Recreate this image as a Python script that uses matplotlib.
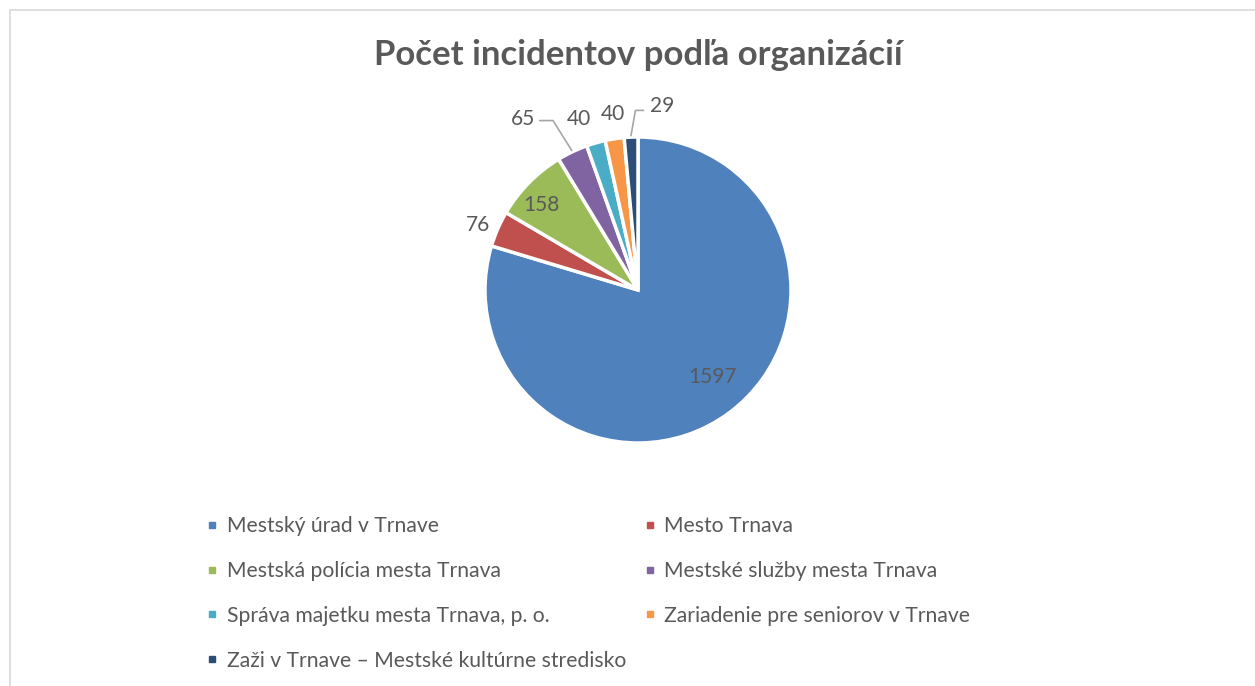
import matplotlib.pyplot as plt
from matplotlib.patches import Rectangle
from matplotlib.lines import Line2D
import numpy as np

# data
organizations = ["Mestský úrad v Trnave", "Mesto Trnava", "Mestská polícia mesta Trnava",
                 "Mestské služby mesta Trnava", "Správa majetku mesta Trnava, p. o.",
                 "Zariadenie pre seniorov v Trnave", "Zaži v Trnave – Mestské kultúrne stredisko"]
incidents = [1597, 76, 158, 65, 40, 40, 29]
colors = ["#4F81BD", "#C0504D", "#9BBB59", "#8064A2", "#4BACC6", "#F79646", "#2C4D75"]

text_color = "#595959"
plt.rcParams['font.family'] = ['Lato', 'DejaVu Sans']

W, H = 1255, 686
fig = plt.figure(figsize=(W / 100, H / 100), dpi=100)

# chart frame (gray border, clipped at right/bottom)
fig.patches.append(Rectangle((10 / W, -0.05), 1.1, (H - 10) / H + 0.05, transform=fig.transFigure,
                             fill=False, edgecolor="#d9d9d9", linewidth=1.2))

# pie axes: center (638, 290) px, radius 153 px
cx, cy, r = 638, 290, 153
ax = fig.add_axes([(cx - r) / W, (H - cy - r) / H, 2 * r / W, 2 * r / H])
wedges, _ = ax.pie(incidents, colors=colors, startangle=90, counterclock=False,
                   wedgeprops=dict(edgecolor="white", linewidth=2.5))
ax.set_xlim(-1, 1)
ax.set_ylim(-1, 1)
ax.set_aspect("equal")
ax.axis("off")

# label placement: (radius factor, angle shift in degrees, leader line)
label_layout = [(0.75, 4, None), (1.13, 1.5, None), (0.84, 3, None),
                (1.35, 8.5, "right"), (1.18, 3, None), (1.16, -0.8, None), (1.21, -10, "left")]

for w, val, (rf, shift, leader) in zip(wedges, incidents, label_layout):
    mid = np.deg2rad((w.theta1 + w.theta2) / 2)
    ang = mid + np.deg2rad(shift)
    lx, ly = rf * np.cos(ang), rf * np.sin(ang)
    if leader is None:
        ax.text(lx, ly, str(val), ha="center", va="center", fontsize=15, color=text_color)
    else:
        ex, ey = 1.01 * np.cos(mid), 1.01 * np.sin(mid)
        if leader == "right":
            relpos, angle_b = (1.2, 0.4), 122
        else:
            relpos, angle_b = (-0.25, 0.3), 80
        ax.annotate(str(val), xy=(ex, ey), xytext=(lx, ly), ha="center", va="center",
                    fontsize=15, color=text_color, annotation_clip=False,
                    arrowprops=dict(arrowstyle="-", color="#a6a6a6", lw=1.2,
                                    relpos=relpos, shrinkA=0, shrinkB=0,
                                    connectionstyle="angle,angleA=0,angleB=%d" % angle_b))

fig.text(cx / W, 1 - 55 / H, "Počet incidentov podľa organizácií", ha="center", va="center",
         fontsize=25, fontweight="bold", color=text_color)

# legend, row-major order in 2 columns
order = [0, 2, 4, 6, 1, 3, 5]
handles = [Line2D([], [], marker="s", linestyle="none", markersize=5, color=colors[i]) for i in order]
labels = [organizations[i] for i in order]
fig.legend(handles, labels, loc="upper left", bbox_to_anchor=(187 / W, 1 - 497 / H), ncol=2,
           frameon=False, fontsize=15.2, labelcolor=text_color, handlelength=0.6,
           handletextpad=0.4, columnspacing=0.8, labelspacing=1.18)

fig.savefig("out.png", dpi=100)
